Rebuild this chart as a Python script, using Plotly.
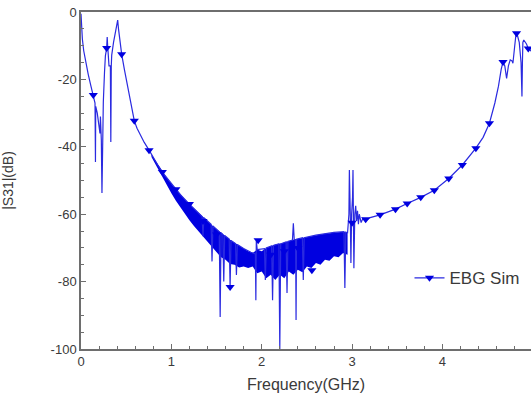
import plotly.graph_objects as go

# ---- main simulated |S31| curve (GHz, dB) ----
freq = [0.000, 0.005, 0.015, 0.030, 0.050, 0.080, 0.110, 0.136, 0.155, 0.160, 0.163, 0.180, 0.190,
        0.200, 0.210, 0.215, 0.225, 0.232, 0.238, 0.247, 0.260, 0.270, 0.284, 0.290, 0.295, 0.300,
        0.310, 0.325, 0.330, 0.335, 0.340, 0.360, 0.380, 0.400, 0.406, 0.415, 0.430, 0.450, 0.480,
        0.510, 0.540, 0.570, 0.590, 0.620, 0.660, 0.700, 0.753, 0.800, 0.850, 0.900, 0.950, 1.000,
        1.100, 1.200, 1.300, 1.340, 1.350, 1.360, 1.440, 1.450, 1.460, 1.530, 1.540, 1.550, 1.570,
        1.580, 1.590, 1.640, 1.650, 1.660, 1.710, 1.720, 1.730, 1.800, 1.880, 1.930, 1.935, 1.940,
        1.950, 2.030, 2.040, 2.050, 2.110, 2.120, 2.130, 2.190, 2.200, 2.210, 2.270, 2.280, 2.290,
        2.340, 2.350, 2.360, 2.375, 2.380, 2.385, 2.450, 2.460, 2.470, 2.600, 2.800, 2.910, 2.920,
        2.930, 2.950, 2.965, 2.970, 2.980, 2.987, 2.995, 3.005, 3.010, 3.015, 3.020, 3.030, 3.040,
        3.050, 3.060, 3.070, 3.080, 3.100, 3.120, 3.150, 3.200, 3.310, 3.400, 3.480, 3.610, 3.760,
        3.910, 4.070, 4.220, 4.370, 4.450, 4.520, 4.580, 4.620, 4.650, 4.670, 4.690, 4.710, 4.730,
        4.750, 4.770, 4.780, 4.800, 4.815, 4.830, 4.850, 4.870, 4.880, 4.885, 4.890, 4.900, 4.930,
        4.950, 4.980, 5.000]
s31 = [-0.5, -4.0, -8.0, -11.5, -14.5, -18.5, -22.0, -24.6, -27.0, -44.5, -28.0, -30.0, -32.0,
       -34.0, -36.0, -31.0, -38.0, -53.7, -36.0, -26.7, -18.0, -13.0, -10.7, -7.4, -10.0, -14.0,
       -16.0, -16.0, -38.6, -16.0, -12.8, -9.0, -6.0, -3.0, -2.4, -5.0, -9.0, -12.5, -17.0,
       -21.5, -25.5, -29.5, -32.3, -34.5, -36.8, -38.7, -41.0, -43.3, -45.4, -47.5, -49.2, -51.0,
       -54.2, -57.0, -59.6, -60.7, -66.5, -61.0, -63.0, -74.0, -63.5, -65.2, -90.5, -65.5, -66.0,
       -80.0, -66.3, -67.4, -81.6, -67.8, -68.7, -78.0, -69.0, -70.2, -71.3, -71.8, -85.5, -67.7,
       -70.5, -70.2, -79.5, -70.0, -69.4, -85.5, -69.3, -68.8, -100.0, -68.8, -68.2, -83.4, -68.1,
       -67.7, -62.7, -67.6, -67.5, -91.4, -67.4, -67.0, -79.5, -67.0, -66.2, -65.4, -65.2, -81.9,
       -65.3, -65.5, -60.0, -46.9, -60.0, -74.5, -60.0, -55.0, -46.9, -60.0, -76.0, -60.0, -57.5,
       -62.0, -59.0, -63.0, -60.0, -62.5, -61.2, -62.0, -61.0, -60.2, -59.2, -58.5, -56.8, -55.0,
       -52.9, -49.4, -45.4, -40.4, -37.2, -33.0, -27.0, -22.0, -17.0, -14.8, -16.0, -19.7, -16.0,
       -14.2, -14.5, -15.2, -10.0, -6.3, -7.0, -9.0, -15.0, -25.1, -15.0, -9.0, -8.3, -9.5,
       -10.8, -11.5, -12.0]

# ---- dense resonance band (upper / lower envelope of fast ripple) ----
band_freq = [0.78, 0.85, 0.90, 0.95, 1.00, 1.05, 1.10, 1.15, 1.20, 1.25, 1.30, 1.35, 1.40, 1.45,
             1.50, 1.55, 1.60, 1.65, 1.70, 1.75, 1.80, 1.85, 1.90, 1.95, 2.00, 2.05, 2.10, 2.15,
             2.20, 2.25, 2.30, 2.35, 2.40, 2.45, 2.50, 2.55, 2.60, 2.65, 2.70, 2.75, 2.80, 2.85,
             2.90, 2.95]
band_top = [-42.3, -45.3, -47.3, -49.2, -51.0, -52.6, -54.2, -55.6, -57.0, -58.3, -59.6, -60.9,
            -62.1, -63.3, -64.4, -65.5, -66.6, -67.6, -68.5, -69.4, -70.2, -71.0, -71.5, -70.5,
            -71.0, -70.0, -69.5, -69.0, -68.8, -68.3, -68.0, -67.6, -67.3, -67.0, -66.7, -66.4,
            -66.2, -66.0, -65.8, -65.6, -65.4, -65.3, -65.2, -65.5]
band_bottom = [-43.0, -46.5, -49.0, -51.5, -53.8, -56.0, -58.0, -60.0, -61.8, -63.5, -65.0, -66.8,
               -68.0, -69.8, -71.0, -72.8, -73.5, -74.8, -75.0, -75.8, -75.5, -76.0, -75.5, -77.5,
               -77.0, -79.0, -78.0, -79.5, -78.0, -79.0, -77.0, -78.0, -76.5, -77.2, -75.5, -76.0,
               -74.5, -75.0, -73.5, -73.8, -72.5, -72.8, -71.5, -72.0]

# ---- symbol positions ----
marker_freq = [0.136, 0.284, 0.450, 0.590, 0.753, 0.900, 1.050, 1.200, 1.350, 1.500, 1.650, 1.800,
               1.960, 2.100, 2.250, 2.400, 2.555, 2.700, 2.850, 3.000, 3.150, 3.310, 3.480, 3.610,
               3.760, 3.910, 4.070, 4.220, 4.370, 4.520, 4.670, 4.820, 4.950]
marker_s31 = [-24.6, -10.7, -12.5, -32.3, -41.0, -47.5, -52.6, -57.0, -62.0, -66.0, -81.6, -72.0,
              -67.7, -72.0, -71.0, -70.0, -76.6, -68.0, -67.0, -62.5, -61.5, -60.2, -58.5, -56.8,
              -55.0, -52.9, -49.4, -45.4, -40.4, -33.0, -14.8, -6.3, -10.8]

x_ticks = [0, 1, 2, 3, 4, 5]
y_ticks = [0, -20, -40, -60, -80, -100]

BLUE = "#0000e0"
LINE = "#2a2ae0"
AXIS = "#6e6e6e"
TXT = "#3a3a3a"

fig = go.Figure()

# lower envelope, then upper envelope filled down to it
fig.add_trace(go.Scatter(
    x=band_freq, y=band_bottom, mode="lines",
    line=dict(color=BLUE, width=0), showlegend=False, hoverinfo="skip"))
fig.add_trace(go.Scatter(
    x=band_freq, y=band_top, mode="lines", fill="tonexty", fillcolor=BLUE,
    line=dict(color=BLUE, width=0), showlegend=False, hoverinfo="skip"))

fig.add_trace(go.Scatter(
    x=freq, y=s31, mode="lines",
    line=dict(color=LINE, width=1.2), showlegend=False))

fig.add_trace(go.Scatter(
    x=marker_freq, y=marker_s31, mode="markers",
    marker=dict(symbol="triangle-down", size=8, color=BLUE), showlegend=False))

fig.add_trace(go.Scatter(
    x=[None], y=[None], mode="lines+markers", name="EBG Sim",
    line=dict(color=LINE, width=1.2),
    marker=dict(symbol="triangle-down", size=8, color=BLUE)))

fig.update_layout(
    width=531, height=400,
    margin=dict(l=81, r=0, t=12, b=51, autoexpand=False),
    paper_bgcolor="white", plot_bgcolor="white",
    font=dict(family="Liberation Sans, Arial, sans-serif", color=TXT),
    legend=dict(x=0.73, y=0.21, xanchor="left", yanchor="middle",
                bgcolor="rgba(0,0,0,0)", font=dict(size=17, color=TXT)),
    xaxis=dict(range=[0, 4.98], tickvals=x_ticks, ticktext=[str(v) for v in x_ticks],
               ticks="inside", ticklen=5, tickcolor=AXIS, tickwidth=1, automargin=False,
               ticklabeloverflow="allow",
               minor=dict(dtick=0.2, tick0=0, ticks="inside", ticklen=3, tickcolor=AXIS),
               showline=True, linecolor=AXIS, linewidth=1.5, mirror=True,
               showgrid=False, zeroline=False, tickfont=dict(size=13, color=TXT),
               title=dict(text="Frequency(GHz)", font=dict(size=16, color=TXT), standoff=10)),
    yaxis=dict(range=[-100, 0], tickvals=y_ticks, ticktext=[str(v) for v in y_ticks],
               ticks="inside", ticklen=5, tickcolor=AXIS, tickwidth=1, automargin=False,
               ticklabeloverflow="allow",
               minor=dict(dtick=5, tick0=0, ticks="inside", ticklen=3, tickcolor=AXIS),
               showline=True, linecolor=AXIS, linewidth=1.5, mirror=True,
               showgrid=False, zeroline=False, tickfont=dict(size=13, color=TXT),
               title=dict(text="|S31|(dB)", font=dict(size=14, color=TXT), standoff=37)),
)

fig.write_html("out.html",
               config={"displayModeBar": False},
               post_script="document.body.style.margin='0px';document.body.style.overflow='hidden';")
